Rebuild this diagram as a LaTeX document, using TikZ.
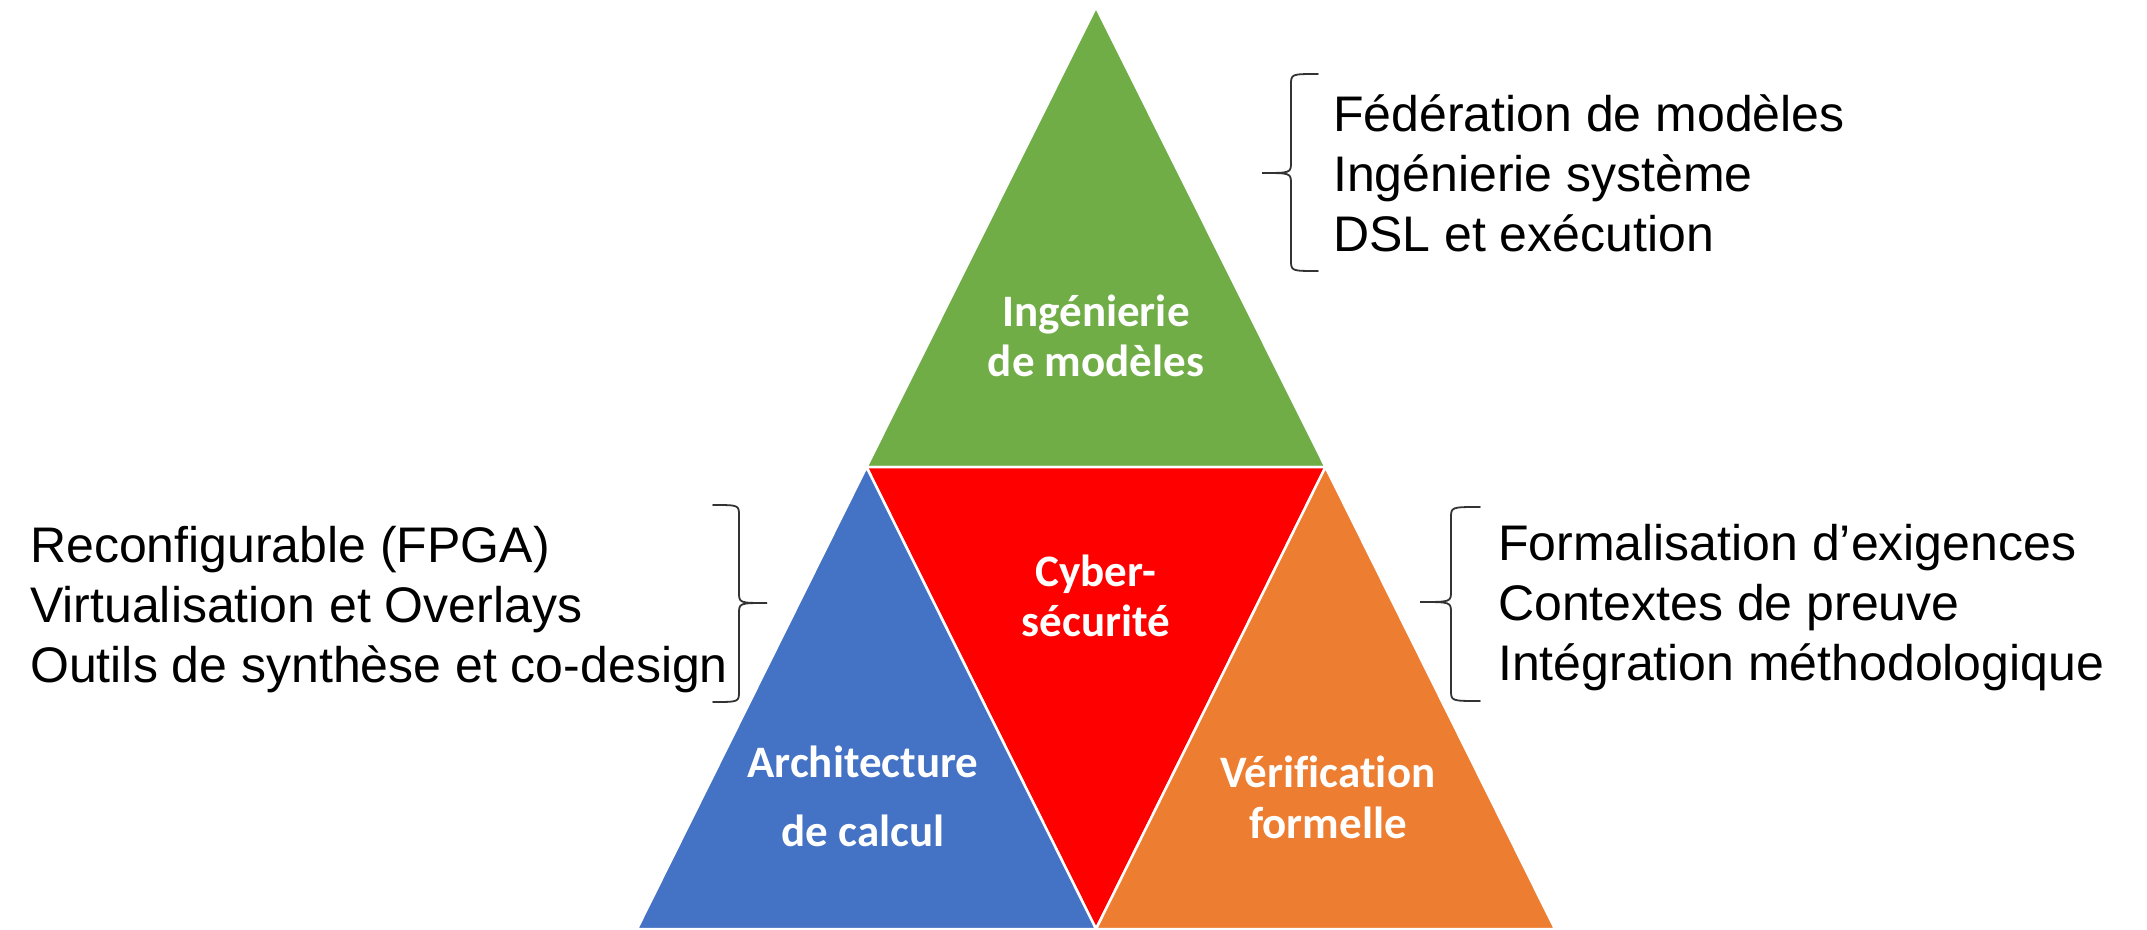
\documentclass[tikz,border=0pt]{standalone}
\usepackage{fontspec}
\setmainfont{Liberation Sans}
\newfontfamily\lblfont{Carlito}[Ligatures=NoCommon]
\definecolor{tgreen}{HTML}{70AD47}
\definecolor{tred}{HTML}{FF0000}
\definecolor{tblue}{HTML}{4472C4}
\definecolor{torange}{HTML}{ED7D31}
\begin{document}
\begin{tikzpicture}[x=1pt,y=-1pt,
  tri/.style={draw=white, line width=2.5pt, line join=round},
  lbl/.style={text=white, font=\lblfont\bfseries\fontsize{45}{50}\selectfont, align=center, inner sep=0pt},
  lst/.style={font=\fontsize{50}{60}\selectfont, align=left, anchor=west, inner sep=0pt},
  bracestyle/.style={draw=black!80, line width=1.8pt, line cap=round}]
\useasboundingbox (0,0) rectangle (2147,929);
\coordinate (A) at (1096,7);
\coordinate (L) at (866.5,467);
\coordinate (R) at (1325.5,467);
\coordinate (BL) at (637,929);
\coordinate (BM) at (1096,929);
\coordinate (BR) at (1555,929);
\filldraw[tri, fill=tgreen] (A) -- (L) -- (R) -- cycle;
\filldraw[tri, fill=tred] (L) -- (R) -- (BM) -- cycle;
\filldraw[tri, fill=tblue] (L) -- (BL) -- (BM) -- cycle;
\filldraw[tri, fill=torange] (R) -- (BM) -- (BR) -- cycle;
% labels
\node[lbl] (ing) at (1096,336) {Ingénierie\\de modèles};
\node[lbl] (cyb) at (1096,596) {Cyber-\\sécurité};
\node[lbl, font=\lblfont\bfseries\fontsize{45}{69}\selectfont] (arc) at (863,796) {Architecture\\de calcul};
\node[lbl, font=\lblfont\bfseries\fontsize{45}{51}\selectfont] (ver) at (1328,797) {Vérification\\formelle};
% lists
\node[lst] (l1) at (1333,173) {Fédération de modèles\\Ingénierie système\\DSL et exécution};
\node[lst] (l2) at (30,610) {Reconfigurable (FPGA)\\Virtualisation et Overlays\\Outils de synthèse et co-design};
\node[lst] (l3) at (1498,608) {Formalisation d’exigences\\Contextes de preuve\\Intégration méthodologique};
% braces
\draw[bracestyle] (1318,74) .. controls (1291,74) .. (1291,85) -- (1291,162) .. controls (1291,173) .. (1262,173) .. controls (1291,173) .. (1291,184) -- (1291,260) .. controls (1291,271) .. (1318,271);
\draw[bracestyle] (713,505) .. controls (739,505) .. (739,516) -- (739,592) .. controls (739,603) .. (767,603) .. controls (739,603) .. (739,614) -- (739,691) .. controls (739,702) .. (713,702);
\draw[bracestyle] (1480,507) .. controls (1451,507) .. (1451,518) -- (1451,591) .. controls (1451,602) .. (1420,602) .. controls (1451,602) .. (1451,613) -- (1451,690) .. controls (1451,701) .. (1480,701);
\end{tikzpicture}
\end{document}
